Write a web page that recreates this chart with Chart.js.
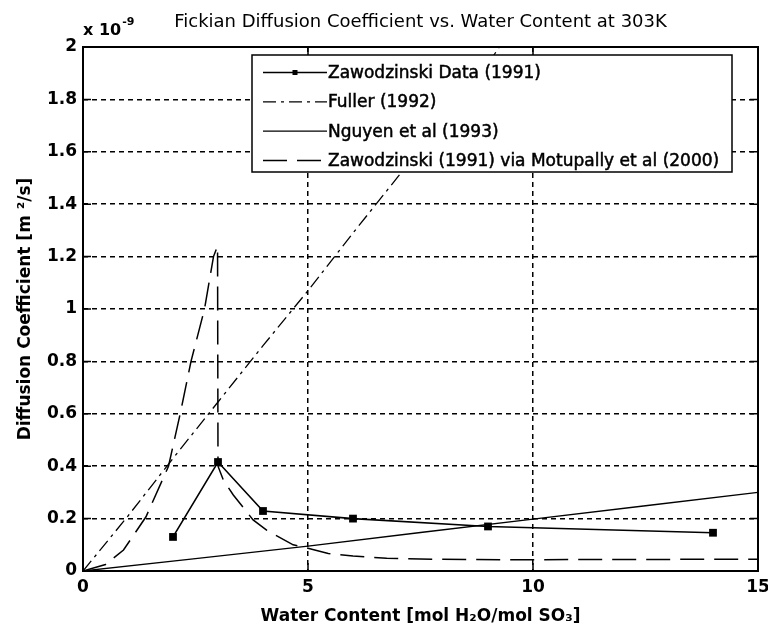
<!DOCTYPE html>
<html>
<head>
<meta charset="utf-8">
<title>Fickian Diffusion Coefficient vs. Water Content at 303K</title>
<script src="https://cdn.jsdelivr.net/npm/chart.js@4.4.1/dist/chart.umd.min.js"></script>
<style>
    html, body { margin: 0; padding: 0; background: #fff; }
    #wrap { width: 768px; height: 628px; }
</style>
</head>
<body>
<div id="wrap"><canvas id="diffChart" width="768" height="628"></canvas></div>
<script>
// Diffusion coefficient in 1e-9 m^2/s vs. water content (mol H2O / mol SO3)
const zawodzinskiX = [2, 3, 4, 6, 9, 14];
const zawodzinskiY = [0.13, 0.416, 0.229, 0.2, 0.17, 0.146];

const fullerX = [0, 1, 2, 3, 4, 5, 6, 7, 8, 9, 9.25];
const fullerY = [0, 0.21, 0.43, 0.645, 0.86, 1.07, 1.29, 1.505, 1.72, 1.935, 2.0];

const nguyenX = [0, 2.5, 5, 7.5, 10, 12.5, 15];
const nguyenY = [0, 0.047, 0.095, 0.147, 0.198, 0.249, 0.30];

const motupallyX = [0, 0.5, 0.9, 1.4, 1.9, 2.16, 2.4, 2.7, 2.9, 2.99, 3.0, 3.12, 3.34, 3.78, 4.08, 4.67, 5.0, 5.45, 6.0, 6.75, 7.8, 9.3, 12, 15];
const motupallyY = [0, 0.025, 0.08, 0.207, 0.4, 0.6, 0.8, 1.0, 1.2, 1.24, 0.4, 0.347, 0.29, 0.195, 0.156, 0.1, 0.087, 0.067, 0.057, 0.049, 0.045, 0.043, 0.044, 0.045];

const seriesNames = [
    'Zawodzinski Data (1991)',
    'Fuller (1992)',
    'Nguyen et al (1993)',
    'Zawodzinski (1991) via Motupally et al (2000)'
];

const xTicks = [0, 5, 10, 15];
const xTickLabels = ['0', '5', '10', '15'];
const yTicks = [0, 0.2, 0.4, 0.6, 0.8, 1, 1.2, 1.4, 1.6, 1.8, 2];
const yTickLabels = ['0', '0.2', '0.4', '0.6', '0.8', '1', '1.2', '1.4', '1.6', '1.8', '2'];

const FONT = 'DejaVu Sans';

function toPoints(xs, ys) {
    return xs.map((x, i) => ({ x, y: ys[i] }));
}

// box, inward ticks, legend and the axis multiplier
const framePlugin = {
    id: 'frame',
    afterDraw(chart) {
        const { ctx, chartArea: a, scales } = chart;
        const xs = scales.x, ys = scales.y;
        const tick = 8;
        ctx.save();
        ctx.strokeStyle = '#000';
        ctx.setLineDash([]);
        ctx.lineWidth = 1.5;
        ctx.beginPath();
        xTicks.forEach(v => {
            const px = xs.getPixelForValue(v);
            ctx.moveTo(px, a.bottom); ctx.lineTo(px, a.bottom - tick);
            ctx.moveTo(px, a.top); ctx.lineTo(px, a.top + tick);
        });
        yTicks.forEach(v => {
            const py = ys.getPixelForValue(v);
            ctx.moveTo(a.left, py); ctx.lineTo(a.left + tick, py);
            ctx.moveTo(a.right, py); ctx.lineTo(a.right - tick, py);
        });
        ctx.stroke();
        ctx.lineWidth = 2;
        ctx.strokeRect(a.left, a.top, a.right - a.left, a.bottom - a.top);

        // legend
        const lw = 480, lh = 117;
        const lx = a.right - 26 - lw, ly = a.top + 8;
        ctx.fillStyle = '#fff';
        ctx.fillRect(lx, ly, lw, lh);
        ctx.lineWidth = 1.5;
        ctx.strokeRect(lx, ly, lw, lh);
        ctx.font = '17px "' + FONT + '"';
        ctx.textBaseline = 'middle';
        ctx.textAlign = 'left';
        chart.data.datasets.forEach((ds, i) => {
            const ry = ly + 17.5 + i * 29.3;
            const x0 = lx + 11, x1 = lx + 75;
            ctx.save();
            ctx.strokeStyle = '#000';
            ctx.lineWidth = ds.borderWidth;
            ctx.setLineDash(ds.borderDash || []);
            ctx.beginPath();
            ctx.moveTo(x0, ry); ctx.lineTo(x1, ry);
            ctx.stroke();
            ctx.restore();
            if (ds.pointRadius > 0) {
                ctx.fillStyle = '#000';
                ctx.fillRect((x0 + x1) / 2 - 2.5, ry - 2.5, 5, 5);
            }
            // slightly heavier text, like the rest of the figure
            ctx.fillStyle = '#000';
            ctx.strokeStyle = '#000';
            ctx.lineWidth = 0.5;
            ctx.fillText(ds.label, x1 + 1, ry + 1);
            ctx.strokeText(ds.label, x1 + 1, ry + 1);
        });

        // x 10^-9 multiplier
        ctx.textBaseline = 'alphabetic';
        ctx.font = 'bold 16px "' + FONT + '"';
        const base = 'x 10';
        ctx.fillText(base, a.left, a.top - 12);
        const w = ctx.measureText(base).width;
        ctx.font = 'bold 11px "' + FONT + '"';
        ctx.fillText('-9', a.left + w + 1, a.top - 22);
        ctx.restore();
    }
};

Chart.defaults.font.family = FONT;
Chart.defaults.color = '#000';

const ctx = document.getElementById('diffChart').getContext('2d');
const diffChart = new Chart(ctx, {
    type: 'line',
    data: {
        datasets: [
            {
                label: seriesNames[0],
                data: toPoints(zawodzinskiX, zawodzinskiY),
                borderColor: '#000',
                backgroundColor: '#000',
                borderWidth: 1.6,
                pointStyle: 'rect',
                pointRadius: 5.5,
                pointBorderWidth: 0,
                tension: 0
            },
            {
                label: seriesNames[1],
                data: toPoints(fullerX, fullerY),
                borderColor: '#000',
                borderWidth: 1.3,
                borderDash: [13, 5, 3, 5],
                pointRadius: 0,
                tension: 0
            },
            {
                label: seriesNames[2],
                data: toPoints(nguyenX, nguyenY),
                borderColor: '#000',
                borderWidth: 1.3,
                pointRadius: 0,
                tension: 0
            },
            {
                label: seriesNames[3],
                data: toPoints(motupallyX, motupallyY),
                borderColor: '#000',
                borderWidth: 1.5,
                borderDash: [24, 10],
                pointRadius: 0,
                tension: 0
            }
        ]
    },
    options: {
        responsive: false,
        animation: false,
        layout: { padding: { left: 0, right: 10, top: 0, bottom: 0 } },
        plugins: {
            legend: { display: false },
            tooltip: { enabled: false },
            title: {
                display: true,
                fullSize: false,
                text: 'Fickian Diffusion Coefficient vs. Water Content at 303K',
                font: { family: FONT, size: 18, weight: 'normal' },
                color: '#000',
                padding: { top: 12, bottom: 13.4 }
            }
        },
        scales: {
            x: {
                type: 'linear',
                min: 0,
                max: 15,
                afterBuildTicks: s => { s.ticks = xTicks.map(v => ({ value: v })); },
                afterFit: s => { s.height = 57; s.paddingLeft = 0; s.paddingRight = 0; },
                ticks: {
                    autoSkip: false,
                    maxRotation: 0,
                    padding: 6,
                    font: { family: FONT, size: 17, weight: 'bold' },
                    callback: v => xTickLabels[xTicks.indexOf(v)]
                },
                grid: { color: '#000', lineWidth: 1.5, drawTicks: false },
                border: { display: false, dash: [5, 4] },
                title: {
                    display: true,
                    text: 'Water Content [mol H\u2082O/mol SO\u2083]',
                    font: { family: FONT, size: 17, weight: 'bold' },
                    padding: { top: 0, bottom: 1 }
                }
            },
            y: {
                type: 'linear',
                min: 0,
                max: 2,
                afterBuildTicks: s => { s.ticks = yTicks.map(v => ({ value: v })); },
                afterFit: s => { s.width = 83; },
                ticks: {
                    autoSkip: false,
                    padding: 6,
                    font: { family: FONT, size: 17, weight: 'bold' },
                    callback: v => yTickLabels[yTicks.indexOf(v)]
                },
                grid: { color: '#000', lineWidth: 1.5, drawTicks: false },
                border: { display: false, dash: [5, 4] },
                title: {
                    display: true,
                    text: 'Diffusion Coefficient [m \u00b2/s]',
                    font: { family: FONT, size: 17, weight: 'bold' },
                    padding: { top: 15, bottom: 0 }
                }
            }
        }
    },
    plugins: [framePlugin]
});
</script>
</body>
</html>
